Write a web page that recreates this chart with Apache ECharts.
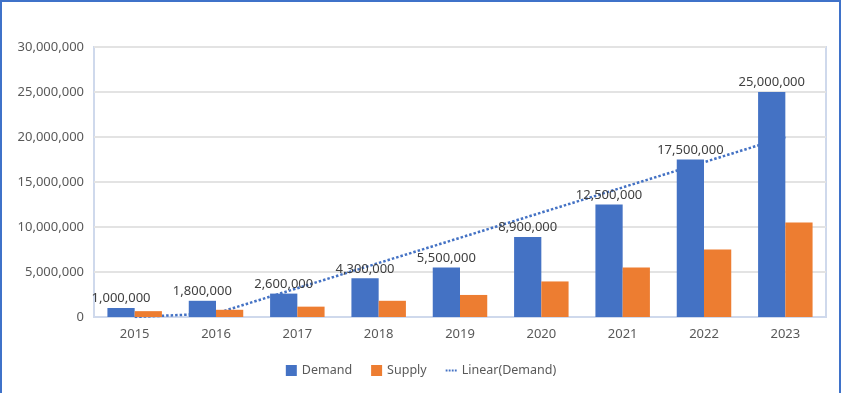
<!DOCTYPE html>
<html>
<head>
<meta charset="utf-8">
<script src="https://cdn.jsdelivr.net/npm/echarts@6/dist/echarts.min.js"></script>
<style>
html,body{margin:0;padding:0;background:#fff;}
#chart{width:842px;height:393px;}
</style>
</head>
<body>
<div id="chart"></div>
<script>
const years = ['2015','2016','2017','2018','2019','2020','2021','2022','2023'];
const demand = [1000000, 1800000, 2600000, 4300000, 5500000, 8900000, 12500000, 17500000, 25000000];
const supply = [650000, 800000, 1150000, 1800000, 2450000, 3950000, 5500000, 7500000, 10500000];
const trendDemand = [0, 400000, 3200000, 6000000, 8800000, 11600000, 14400000, 17200000, 20000000];
const yTicks = {min: 0, max: 30000000, interval: 5000000};

const fmt = v => Number(v).toLocaleString('en-US');
const FONT = 'Noto Sans';

const chart = echarts.init(document.getElementById('chart'), null, {renderer: 'canvas'});
chart.setOption({
  animation: false,
  backgroundColor: '#ffffff',
  textStyle: {fontFamily: FONT},
  graphic: [{
    type: 'rect',
    shape: {x: 1, y: 1, width: 839, height: 420},
    style: {fill: 'none', stroke: '#3f72c9', lineWidth: 2},
    silent: true, z: 100
  }],
  grid: {
    left: 94, right: 16, top: 47, bottom: 76,
    show: true, borderColor: '#cfd9ec', borderWidth: 2, backgroundColor: 'transparent'
  },
  legend: {
    bottom: 11,
    left: 'center',
    itemWidth: 11, itemHeight: 11, itemGap: 19,
    textStyle: {color: '#595959', fontSize: 12.5, fontFamily: FONT},
    data: [
      {name: 'Demand', icon: 'rect'},
      {name: 'Supply', icon: 'rect'},
      {name: 'Linear(Demand)', icon: 'path://M0,4h3v3h-3zM5,4h3v3h-3zM10,4h3v3h-3zM15,4h3v3h-3z', itemStyle: {color: '#4472c4'}}
    ]
  },
  xAxis: {
    type: 'category',
    data: years,
    axisLine: {show: true, lineStyle: {color: '#cfd9ec', width: 2}},
    axisTick: {show: false},
    axisLabel: {color: '#595959', fontSize: 13, fontFamily: FONT, margin: 11}
  },
  yAxis: {
    type: 'value',
    min: yTicks.min, max: yTicks.max, interval: yTicks.interval,
    axisLine: {show: false},
    axisTick: {show: false},
    splitLine: {lineStyle: {color: '#e3e3e3', width: 2}},
    axisLabel: {color: '#595959', fontSize: 13, fontFamily: FONT, margin: 10, formatter: fmt}
  },
  series: [
    {
      name: 'Demand', type: 'bar', data: demand, z: 3,
      barGap: '0%', barCategoryGap: '33%',
      itemStyle: {color: '#4472c4'},
      label: {show: true, position: 'top', distance: 3, color: '#404040', fontSize: 13, fontFamily: FONT, formatter: p => fmt(p.value)}
    },
    {
      name: 'Supply', type: 'bar', data: supply, z: 3,
      barGap: '0%', barCategoryGap: '33%',
      itemStyle: {color: '#ed7d31'}
    },
    {
      name: 'Linear(Demand)', type: 'line', data: trendDemand, z: 1,
      symbol: 'none', smooth: false,
      lineStyle: {color: '#4472c4', width: 2.5, type: [2.5, 2], cap: 'butt'},
      itemStyle: {color: '#4472c4'}
    }
  ]
});
</script>
</body>
</html>
